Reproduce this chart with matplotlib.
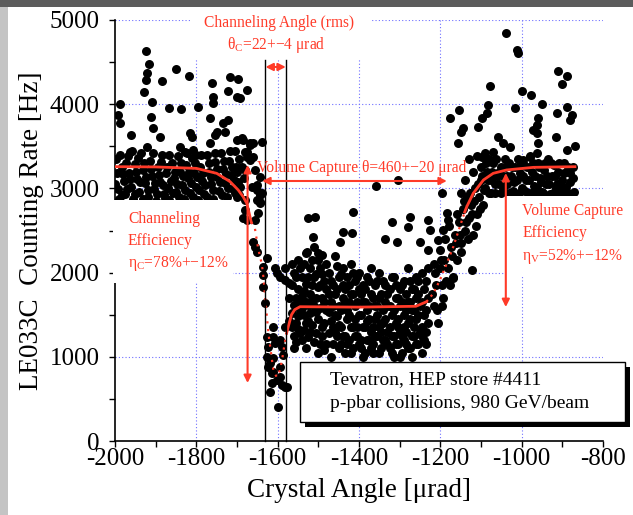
import matplotlib.pyplot as plt
from matplotlib.patches import Rectangle

plt.rcParams['font.family'] = ['Liberation Serif', 'DejaVu Serif']
plt.rcParams['mathtext.fontset'] = 'custom'
plt.rcParams['mathtext.rm'] = 'Liberation Serif'
plt.rcParams['axes.unicode_minus'] = False

# --- measured counting rates, read off the original plot ---
# left plateau (amorphous orientation) incl. the high outliers
left_x = [-1925, -1916, -1922, -1925, -1885, -1850, -1817, -1928, -1910, -1988,
          -1867, -1838, -1795, -1762, -1760, -1759, -1717, -1697, -1721, -1701,
          -1676, -1693, -1911, -1906, -1889, -1961, -1988, -1993, -1766, -1734,
          -1721, -1730, -1750, -1754, -1816, -1811, -1688, -1668, -1639, -1676,
          -1922, -1963, -1840, -1807, -1766, -1828, -1800,
          -1997, -1995, -1993, -1990, -1982, -1978, -1975, -1968, -1965, -1960,
          -1955, -1950, -1946, -1940, -1935, -1930, -1926, -1920, -1915, -1910,
          -1905, -1900, -1895, -1890, -1884, -1880, -1875, -1870, -1866, -1860,
          -1855, -1850, -1845, -1840, -1835, -1830, -1825, -1820, -1815, -1810,
          -1805, -1800, -1795, -1790, -1785, -1780, -1775, -1770, -1765, -1760,
          -1755, -1750, -1745, -1740, -1735, -1730, -1725, -1720, -1715, -1710,
          -1706, -1702, -1698, -1694,
          -1999, -1987, -1984, -1980, -1972, -1970, -1963, -1958, -1952, -1948,
          -1943, -1938, -1932, -1928, -1923, -1918, -1912, -1907, -1902, -1897,
          -1893, -1887, -1882, -1877, -1873, -1868, -1863, -1858, -1853, -1848,
          -1843, -1838, -1833, -1828, -1823, -1818, -1813, -1808, -1803, -1798,
          -1793, -1788, -1783, -1778, -1773, -1768, -1763, -1758, -1753, -1748,
          -1743, -1738, -1733, -1728, -1723, -1718, -1713, -1708, -1704, -1700,
          -1696, -1692, -1688, -1684]
left_y = [4635, 4477, 4367, 4287, 4279, 4418, 4335, 4149, 4030, 4002,
          3955, 3943, 3963, 4248, 4089, 4010, 4319, 4299, 4160, 4089,
          4169, 4070, 3848, 3713, 3607, 3634, 3777, 3872, 3833, 3773,
          3812, 3673, 3673, 3634, 3654, 3614, 3595, 3535, 3555, 3436,
          3495, 3436, 3495, 3456, 3535, 3436, 3400,
          3350, 3180, 2990, 2870, 3260, 3090, 2930, 3380, 3180, 3020,
          2880, 3290, 3110, 2960, 3420, 3220, 3060, 2900, 3320, 3150,
          2990, 2850, 3250, 3080, 3400, 2930, 3180, 3010, 2860, 3300,
          3120, 2960, 3380, 3200, 3040, 2880, 3280, 3120, 2950, 3360,
          3180, 3020, 2860, 3250, 3090, 2930, 3400, 3200, 3050, 2880,
          3310, 3140, 2970, 3420, 3230, 3070, 2900, 3330, 3160, 2990,
          3450, 3260, 3080, 2920,
          3050, 3400, 2920, 3170, 3300, 2990, 3110, 3440, 2930, 3200,
          3360, 3080, 2880, 3300, 3140, 2980, 3230, 3420, 3060, 2930,
          3160, 3310, 3040, 2890, 3250, 3400, 3090, 2950, 3200, 3050,
          2900, 3300, 3150, 2980, 3420, 3200, 3060, 2900, 3300, 3130,
          2980, 3400, 3180, 3040, 2900, 3300, 3130, 2980, 3420, 3230,
          3080, 2920, 3330, 3170, 3000, 3450, 3260, 3100, 2940, 3200,
          3350, 3020, 3250, 3120]

# channeling dip
dip_x = [-1701, -1685, -1668, -1680, -1676, -1701, -1680, -1664, -1652, -1643,
         -1643, -1701, -1680, -1685, -1680, -1656, -1660, -1656, -1652, -1627,
         -1635, -1635, -1635, -1631, -1611, -1627, -1623, -1627, -1619, -1611,
         -1615, -1619, -1598, -1594, -1590, -1586, -1594, -1578, -1590, -1602,
         -1582, -1594, -1582, -1607, -1676, -1652, -1643, -1648, -1660, -1668,
         -1660, -1656, -1643, -1639, -1652, -1582, -1611, -1607, -1611, -1623,
         -1615, -1602, -1594, -1582]
dip_y = [3575, 3575, 3515, 3436, 3377, 3238, 3219, 3021, 3040, 2922,
         2842, 2902, 2862, 2645, 2743, 2625, 2367, 2308, 2248, 2170,
         2070, 1972, 1833, 1635, 1357, 1239, 1120, 1001, 923, 823,
         685, 585, 407, 1200, 1120, 1021, 882, 645, 665, 1992,
         2051, 1951, 1912, 2050, 2625, 2862, 2823, 2704, 3535, 3337,
         3377, 3219, 3139, 2942, 2981, 1357, 1239, 1160, 982, 882,
         804, 725, 764, 645]

# volume reflection region
mid_x = [-1572, -1572, -1572, -1560, -1560, -1560, -1560, -1550, -1550, -1550,
         -1550, -1540, -1540, -1540, -1540, -1530, -1530, -1530, -1530, -1530,
         -1520, -1520, -1520, -1520, -1510, -1510, -1510, -1510, -1500, -1500,
         -1500, -1500, -1490, -1490, -1490, -1490, -1480, -1480, -1480, -1480,
         -1470, -1470, -1470, -1470, -1460, -1460, -1460, -1460, -1450, -1450,
         -1450, -1450, -1440, -1440, -1440, -1440, -1430, -1430, -1430, -1430,
         -1420, -1420, -1420, -1420, -1410, -1410, -1410, -1410, -1400, -1400,
         -1400, -1400, -1390, -1390, -1390, -1390, -1380, -1380, -1380, -1380,
         -1370, -1370, -1370, -1370, -1360, -1360, -1360, -1360, -1350, -1350,
         -1350, -1350, -1340, -1340, -1340, -1340, -1330, -1330, -1330, -1330,
         -1320, -1320, -1320, -1320, -1310, -1310, -1310, -1310, -1300, -1300,
         -1300, -1300, -1290, -1290, -1290, -1290, -1280, -1280, -1280, -1280,
         -1270, -1270, -1270, -1270, -1260, -1260, -1260, -1260, -1250, -1250,
         -1246, -1240, -1240, -1240, -1230, -1230, -1230,
         -1525, -1508, -1512, -1529, -1500, -1492, -1414, -1439, -1418, -1447,
         -1320, -1275, -1279, -1336, -1307, -1230, -1226, -1250, -1230, -1357,
         -1303, -1197]
mid_y = [1700, 1420, 1880, 2000, 1620, 1250, 1100, 1800, 1480, 2150,
         1330, 1950, 1580, 1200, 1720, 2230, 1860, 1400, 1100, 1650,
         2050, 1750, 1300, 1520, 1950, 1600, 1180, 2300, 1830, 1450,
         1050, 2150, 1700, 1350, 1980, 1250, 2100, 1550, 1150, 1800,
         1900, 1420, 1650, 1000, 2200, 1750, 1300, 1500, 1600, 1950,
         1100, 1380, 1850, 1250, 1700, 2050, 1450, 1550, 1950, 1150,
         2100, 1350, 1750, 1050, 1600, 1250, 1900, 1450, 1800, 1150,
         1500, 2000, 1350, 1650, 1000, 1850, 1550, 1200, 1950, 1420,
         1750, 1300, 1100, 2050, 1450, 1600, 1850, 1250, 1350, 1050,
         1700, 2000, 1550, 1200, 1900, 1400, 1300, 1750, 1150, 1600,
         1500, 1950, 1250, 1050, 1700, 1400, 1850, 1150, 1300, 1600,
         1000, 1800, 1500, 1200, 1900, 1350, 1650, 1100, 1400, 2050,
         1250, 1800, 1550, 1000, 1450, 1700, 1150, 1950, 1300, 1600,
         1041, 1500, 1200, 1800, 1700, 1400, 2050,
         2645, 2664, 2426, 2248, 2228, 2209, 2723, 2486, 2467, 2367,
         2605, 2664, 2545, 2395, 2367, 2625, 2506, 2367, 2268, 3029,
         3100, 2942]
mid2_x = [-1565, -1565, -1565, -1565, -1555, -1555, -1555, -1555, -1545, -1545,
          -1545, -1545, -1535, -1535, -1535, -1535, -1525, -1525, -1525, -1525,
          -1515, -1515, -1515, -1515, -1505, -1505, -1505, -1505, -1495, -1495,
          -1495, -1495, -1485, -1485, -1485, -1485, -1475, -1475, -1475, -1475,
          -1465, -1465, -1465, -1465, -1455, -1455, -1455, -1455, -1445, -1445,
          -1445, -1445, -1435, -1435, -1435, -1435, -1425, -1425, -1425, -1425,
          -1415, -1415, -1415, -1415, -1405, -1405, -1405, -1405, -1395, -1395,
          -1395, -1395, -1385, -1385, -1385, -1385, -1375, -1375, -1375, -1375,
          -1365, -1365, -1365, -1365, -1355, -1355, -1355, -1355, -1345, -1345,
          -1345, -1345, -1335, -1335, -1335, -1335, -1325, -1325, -1325, -1325,
          -1315, -1315, -1315, -1315, -1305, -1305, -1305, -1305, -1295, -1295,
          -1295, -1295, -1285, -1285, -1285, -1285, -1275, -1275, -1275, -1275,
          -1265, -1265, -1265, -1265, -1255, -1255, -1255, -1255, -1245, -1245,
          -1245, -1245, -1235, -1235, -1235, -1235]
mid2_y = [1850, 1520, 1350, 2100, 1700, 1400, 1950, 1180, 2050, 1650,
          1280, 1550, 1780, 1500, 2100, 1320, 1950, 1620, 1230, 1420,
          1850, 1380, 2150, 1680, 1700, 1280, 1530, 1980, 2050, 1580,
          1150, 1850, 1400, 1900, 1650, 1080, 1750, 1280, 2000, 1530,
          1600, 1150, 1850, 1350, 1800, 1250, 1480, 2080, 1550, 1150,
          1350, 1980, 1650, 1250, 1800, 1050, 1500, 1200, 1850, 1650,
          1350, 1750, 1100, 2000, 1650, 1350, 1250, 1950, 1500, 1200,
          1750, 1100, 1350, 1650, 1050, 1800, 1450, 1200, 1900, 1600,
          1350, 1700, 1050, 1150, 1500, 1250, 1900, 1600, 1400, 1100,
          1750, 1300, 1450, 1200, 1850, 1650, 1350, 1600, 1100, 1800,
          1250, 1550, 1950, 1000, 1450, 1150, 1700, 1350, 1650, 1050,
          1250, 1850, 1300, 1550, 1150, 1750, 1450, 1650, 1100, 1900,
          1350, 1550, 1250, 1800, 1500, 1150, 1750, 1900, 1350, 1650,
          1250, 2000, 1550, 1300, 1900, 1150]

# recovery to the right plateau
right_x = [-1205, -1193, -1123, -1168, -1176, -1201, -1205, -1193, -1180, -1184,
           -1215, -1210, -1200, -1190, -1185, -1175, -1165, -1160, -1155, -1150,
           -1145, -1140, -1135, -1130, -1125, -1120, -1115, -1110, -1105, -1100,
           -1095, -1090, -1085, -1080, -1075, -1070, -1065, -1060, -1055, -1050,
           -1045, -1040, -1035, -1030, -1025, -1020, -1015, -1010, -1005, -1000,
           -995, -990, -985, -980, -975, -970, -965, -960, -955, -950,
           -945, -940, -935, -930, -925, -920, -915, -910, -905, -900,
           -895, -890, -885, -880, -875, -872,
           -1039, -1011, -1008, -1078, -998, -976, -951, -910, -889, -902,
           -1082, -1086, -1098, -1107, -1153, -1176, -1144, -1148, -1156, -1016,
           -914, -889, -877, -880, -959, -963, -971, -962, -959, -916,
           -889, -869, -1058, -1045, -1029, -1070, -1098, -996, -980, -963,
           -1130, -1120, -1110, -1100, -1090, -1080, -1140, -1150,
           -1220, -1212, -1208, -1198, -1195, -1188, -1182, -1178, -1172, -1170,
           -1162, -1158, -1152, -1148, -1142, -1138, -1132, -1128, -1122, -1118,
           -1112, -1108, -1102, -1197, -1215,
           -1098, -1092, -1088, -1082, -1076, -1072, -1066, -1062, -1056, -1052,
           -1047, -1042, -1037, -1032, -1027, -1022, -1017, -1012, -1007, -1002,
           -997, -992, -987, -982, -977, -972, -967, -962, -957, -952,
           -947, -942, -937, -932, -927, -922, -917, -912, -907, -902,
           -897, -892, -887, -882, -877, -874]
right_y = [1398, 1695, 2031, 1932, 1852, 2268, 2387, 2506, 2625, 2704,
           1600, 1850, 2050, 2150, 1900, 2300, 2450, 2150, 2600, 2350,
           2750, 2500, 2900, 2650, 2800, 2450, 3000, 2700, 2900, 3100,
           2800, 3000, 3200, 2950, 3100, 3300, 2950, 3150, 3050, 3250,
           3000, 3350, 3150, 2950, 3250, 3080, 2920, 3350, 3180, 3000,
           3280, 3100, 2940, 3380, 3200, 3030, 2920, 3300, 3120, 2960,
           3220, 3050, 3350, 2930, 3150, 3280, 3000, 3200, 2920, 3100,
           3300, 3020, 2950, 3180, 3250, 2960,
           4842, 4644, 4604, 4216, 4160, 4109, 4002, 4398, 4335, 4240,
           3990, 3892, 3833, 3733, 3931, 3833, 3713, 3673, 3535, 3951,
           3892, 3970, 3872, 3812, 3833, 3753, 3693, 3654, 3535, 3614,
           3456, 3504, 3614, 3535, 3495, 3436, 3377, 3337, 3377, 3416,
           3350, 3200, 3380, 3250, 3420, 3350, 3100, 2950,
           1750, 2000, 1550, 2150, 1850, 2400, 2050, 2550, 2200, 1950,
           2350, 2700, 2450, 2250, 2850, 2600, 2400, 2950, 2700, 2850,
           2550, 3050, 2750, 1600, 2100,
           3150, 2980, 3300, 3100, 2950, 3200, 3050, 3350, 3200, 2950,
           3150, 3250, 3050, 3300, 3150, 2970, 3250, 3100, 2950, 3300,
           3150, 2970, 3250, 3100, 2950, 3300, 3150, 3000, 3250, 3080,
           2950, 3300, 3150, 3050, 3300, 2950, 3150, 3050, 3300, 3000,
           3180, 2940, 3250, 3080, 2930, 3120]

# --- fit curve ---
fit_left_x = [-2000, -1900, -1800, -1750, -1717, -1697, -1685, -1676, -1670, -1665]
fit_left_y = [3258, 3255, 3238, 3179, 3080, 2981, 2902, 2823, 2704, 2600]
fit_dip_x = [-1665, -1656, -1648, -1639, -1635, -1631, -1627, -1622, -1615, -1610,
             -1602, -1594, -1588, -1582, -1578]
fit_dip_y = [2600, 2526, 2288, 2100, 1950, 1714, 1500, 1250, 1000, 820,
             760, 843, 1000, 1180, 1280]
fit_mid_x = [-1578, -1574, -1566, -1558, -1545, -1400, -1260, -1234]
fit_mid_y = [1280, 1357, 1500, 1560, 1595, 1590, 1600, 1654]
fit_rise_x = [-1234, -1217, -1201, -1184, -1168, -1152, -1140]
fit_rise_y = [1654, 1754, 1912, 2110, 2308, 2545, 2720]
fit_right_x = [-1140, -1135, -1119, -1094, -1070, -1037, -971, -869]
fit_right_y = [2720, 2783, 2942, 3100, 3179, 3219, 3250, 3258]

x_grid = [-1800, -1600, -1400, -1200, -1000]
y_grid = [1000, 2000, 3000, 4000, 5000]

RED = '#ff3a28'
GRID = '#7070ff'

fig = plt.figure(figsize=(6.33, 5.15), dpi=100)

# slide frame remnants
fig.patches.append(Rectangle((0, 1 - 7 / 515), 1, 7 / 515, transform=fig.transFigure,
                             facecolor='#5c5c5c', edgecolor='none'))
fig.patches.append(Rectangle((0, 0), 8 / 633, 1 - 7 / 515, transform=fig.transFigure,
                             facecolor='#c4c4c4', edgecolor='none'))

ax = fig.add_axes([115 / 633, 74 / 515, 488 / 633, 421 / 515])
ax.set_xlim(-2000, -800)
ax.set_ylim(0, 5000)
for s in ['top', 'right']:
    ax.spines[s].set_visible(False)
for s in ['left', 'bottom']:
    ax.spines[s].set_linewidth(1.2)

for v in y_grid:
    ax.axhline(v, color=GRID, ls=(0, (1, 2)), lw=0.8, zorder=1)
for v in x_grid:
    ax.axvline(v, color=GRID, ls=(0, (1, 2)), lw=0.8, zorder=1)

all_x = left_x + dip_x + mid_x + mid2_x + right_x
all_y = left_y + dip_y + mid_y + mid2_y + right_y
ax.scatter(all_x, all_y, s=42, c='black', linewidths=0, zorder=2)

ax.plot(fit_left_x, fit_left_y, color=RED, lw=2.0, zorder=3)
ax.plot(fit_dip_x, fit_dip_y, color=RED, lw=1.6, ls=(0, (1, 2.5)), zorder=3)
ax.plot(fit_mid_x, fit_mid_y, color=RED, lw=2.0, zorder=3)
ax.plot(fit_rise_x, fit_rise_y, color=RED, lw=1.6, ls=(0, (1, 2)), zorder=3)
ax.plot(fit_right_x, fit_right_y, color=RED, lw=2.0, zorder=3)

# white backgrounds of the annotation blocks
for (bx, by, bw, bh) in [(-0.004, 0.375, 0.246, 0.197),
                         (0.799, 0.392, 0.24, 0.19),
                         (0.154, 0.905, 0.3685, 0.13)]:
    ax.add_patch(Rectangle((bx, by), bw, bh, transform=ax.transAxes, facecolor='white',
                           edgecolor='none', zorder=4, clip_on=False))

# channeling angle markers
for xv in [-1630, -1580]:
    ax.plot([xv, xv], [0, 4525], color='black', lw=1.0, zorder=5, clip_on=False)

arrow = dict(arrowstyle='<|-|>', color=RED, lw=1.5, mutation_scale=11, shrinkA=0, shrinkB=0)
ax.annotate('', xy=(-1580, 4442), xytext=(-1630, 4442), arrowprops=arrow, zorder=6)
ax.annotate('', xy=(-1184, 3088), xytext=(-1638, 3088), arrowprops=arrow, zorder=6)
ax.annotate('', xy=(-1674, 689), xytext=(-1674, 3278), arrowprops=arrow, zorder=6)
ax.annotate('', xy=(-1039, 1591), xytext=(-1039, 3183), arrowprops=arrow, zorder=6)

tkw = dict(color=RED, fontsize=11.2, zorder=7)
ax.text(-1597, 4970, 'Channeling Angle (rms)', ha='center', va='center', **tkw)
ax.text(-1604, 4703, r'θ$_\mathrm{C}$=22+−4 μrad', ha='center', va='center', **tkw)
ax.text(-1651, 3242, 'Volume Capture θ=460+−20 μrad', ha='left', va='center', **tkw)
ax.text(-1968, 2360, 'Channeling\nEfficiency\n' + r'η$_\mathrm{C}$=78%+−12%',
        ha='left', va='center', linespacing=1.45, **tkw)
ax.text(-999, 2450, 'Volume Capture\nEfficiency\n' + r'η$_\mathrm{V}$=52%+−12%',
        ha='left', va='center', linespacing=1.5, **tkw)

# run info box with drop shadow
bx0, by0, bw0, bh0 = 0.379, 0.045, 0.666, 0.143
ax.add_patch(Rectangle((bx0 + 5 / 488, by0 - 5 / 421), bw0, bh0, transform=ax.transAxes,
                       facecolor='black', edgecolor='none', zorder=8, clip_on=False))
ax.add_patch(Rectangle((bx0, by0), bw0, bh0, transform=ax.transAxes, facecolor='white',
                       edgecolor='black', lw=1.0, zorder=9, clip_on=False))
ax.text(0.441, 0.145, 'Tevatron, HEP store #4411', transform=ax.transAxes,
        fontsize=14, va='center', ha='left', zorder=10)
ax.text(0.441, 0.088, 'p-pbar collisions, 980 GeV/beam', transform=ax.transAxes,
        fontsize=14, va='center', ha='left', zorder=10)

ax.set_xticks(range(-2000, -799, 200))
ax.set_xticks(range(-2000, -799, 100), minor=True)
ax.set_yticks(range(0, 5001, 1000))
ax.set_yticks(range(0, 5001, 500), minor=True)
ax.tick_params(which='both', direction='out', length=4, width=1.0, labelsize=18)
ax.tick_params(axis='x', pad=1)
ax.tick_params(axis='y', pad=7)

ax.set_xlabel('Crystal Angle [μrad]', fontsize=19.5, labelpad=6)
ax.set_ylabel('LE033C  Counting Rate [Hz]', fontsize=19.5, labelpad=4)

fig.savefig('out.png', dpi=100)
